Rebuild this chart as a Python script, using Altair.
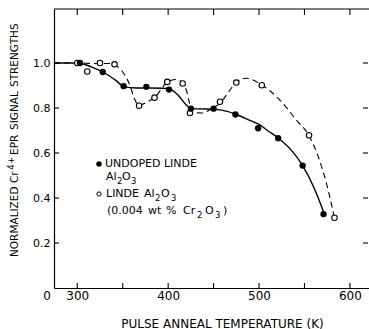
import altair as alt
import pandas as pd

# Measured points: undoped Linde Al2O3 (filled) and Linde Al2O3 with 0.004 wt % Cr2O3 (open)
undoped_temp = [303, 328, 351, 376, 401, 425, 450, 474, 499, 521, 548, 571]
undoped_signal = [1.0, 0.96, 0.897, 0.894, 0.882, 0.797, 0.797, 0.771, 0.71, 0.666, 0.544, 0.328]

doped_temp = [300, 311, 325, 341, 368, 385, 399, 416, 424, 457, 475, 503, 555, 583]
doped_signal = [1.0, 0.962, 1.0, 0.994, 0.81, 0.846, 0.916, 0.909, 0.778, 0.828, 0.913, 0.901, 0.679, 0.312]

# Hand-drawn guide curves through each series
solid_curve_temp = [274.4, 300, 316, 328, 342, 352, 365, 380, 395, 401, 411, 420, 426, 435, 450,
                    465, 475, 490, 500, 510, 521, 535, 548, 560, 572]
solid_curve_signal = [1.0, 1.0, 0.982, 0.96, 0.924, 0.894, 0.889, 0.889, 0.888, 0.885, 0.857, 0.813,
                      0.797, 0.796, 0.795, 0.785, 0.771, 0.745, 0.727, 0.698, 0.667, 0.615, 0.544, 0.45, 0.328]

dashed_curve_temp = [274.4, 300, 315, 325, 335, 342, 350, 358, 363, 368, 376, 386, 399, 409, 416, 420,
                     423, 426, 437, 449, 458, 468, 475, 486, 502, 523, 541, 555, 565, 573, 583]
dashed_curve_signal = [1.0, 1.0, 0.998, 0.997, 0.998, 0.99, 0.96, 0.9, 0.84, 0.812, 0.825, 0.85, 0.915,
                       0.927, 0.91, 0.88, 0.83, 0.78, 0.778, 0.80, 0.825, 0.88, 0.916, 0.932, 0.905, 0.835,
                       0.747, 0.677, 0.586, 0.483, 0.312]

x_ticks = [300, 350, 400, 450, 500, 550, 600]
x_labels = [300, 400, 500, 600]
y_ticks = [0.2, 0.4, 0.6, 0.8, 1.0]

FONT = "DejaVu Sans"
W, H = 315, 279

x_scale = alt.Scale(domain=[274.4, 621], nice=False, zero=False)
y_scale = alt.Scale(domain=[0, 1.24], nice=False, zero=False)

x_axis = alt.Axis(values=x_labels, ticks=False, grid=False, domainColor="black", domainWidth=1.2,
                  labelFont=FONT, labelFontSize=12, labelColor="black", labelPadding=2,
                  title="PULSE ANNEAL TEMPERATURE (K)", titleFont=FONT, titleFontSize=12,
                  titleFontWeight="normal", titleColor="black", titleX=168, titleY=35,
                  titleBaseline="middle", titleAnchor="middle")
y_axis = alt.Axis(values=y_ticks, format=".1f", ticks=False, grid=False, domainColor="black",
                  domainWidth=1.2, labelFont=FONT, labelFontSize=11, labelColor="black",
                  labelPadding=4, title=None)


def xenc():
    return alt.X("t:Q", scale=x_scale, axis=x_axis)


def yenc():
    return alt.Y("s:Q", scale=y_scale, axis=y_axis)


undoped = pd.DataFrame({"t": undoped_temp, "s": undoped_signal})
doped = pd.DataFrame({"t": doped_temp, "s": doped_signal})
solid = pd.DataFrame({"t": solid_curve_temp, "s": solid_curve_signal})
dashed = pd.DataFrame({"t": dashed_curve_temp, "s": dashed_curve_signal})
xt = pd.DataFrame({"t": x_ticks})
yt = pd.DataFrame({"s": y_ticks})
one = pd.DataFrame({"a": [0]})

solid_line = alt.Chart(solid).mark_line(color="black", strokeWidth=1.4, interpolate="monotone").encode(
    x=xenc(), y=yenc())
dashed_line = alt.Chart(dashed).mark_line(color="black", strokeWidth=1.1, strokeDash=[6, 4],
                                          interpolate="monotone").encode(x=xenc(), y=yenc())

filled_pts = alt.Chart(undoped).mark_point(filled=True, color="black", size=40, opacity=1).encode(
    x=xenc(), y=yenc())
open_pts = alt.Chart(doped).mark_point(filled=False, color="black", fill="white", size=30,
                                       strokeWidth=1.1, opacity=1).encode(x=xenc(), y=yenc())

# Frame: top border and inward tick marks on all four sides
top_border = alt.Chart(one).mark_rule(color="black", strokeWidth=1.2).encode(
    x=alt.value(0), x2=alt.value(W), y=alt.value(0))
bottom_ticks = alt.Chart(xt).mark_rule(color="black", strokeWidth=1.1).encode(
    x=xenc(), y=alt.value(H), y2=alt.value(H - 5))
top_ticks = alt.Chart(xt).mark_rule(color="black", strokeWidth=1.1).encode(
    x=xenc(), y=alt.value(0), y2=alt.value(6))
left_ticks = alt.Chart(yt).mark_rule(color="black", strokeWidth=1.1).encode(
    y=yenc(), x=alt.value(0), x2=alt.value(5))
right_ticks = alt.Chart(yt).mark_rule(color="black", strokeWidth=1.1).encode(
    y=yenc(), x=alt.value(W - 6), x2=alt.value(W - 1))


def label(txt, px, py, size=11, align="left", angle=0):
    return alt.Chart(one).mark_text(font=FONT, fontSize=size, color="black", align=align,
                                    baseline="middle", text=txt, angle=angle).encode(
        x=alt.value(px), y=alt.value(py))


origin_label = label("0", -7, H + 8, size=12, align="center")

# Vertical axis title, built word by word so the Cr4+ charge sits as a real superscript
y_title = [
    label("NORMALIZED", -39, 248, size=10.5, angle=270),
    label("Cr", -39, 174, size=10.5, angle=270),
    label("4+", -43, 161, size=9, angle=270),
    label("EPR", -39, 146, size=10.5, angle=270),
    label("SIGNAL", -39, 121, size=10.5, angle=270),
    label("STRENGTHS", -39, 78, size=10.5, angle=270),
]

# Legend drawn inside the plot, with chemical subscripts set lower and smaller
legend_filled = alt.Chart(one).mark_point(filled=True, color="black", size=30, opacity=1).encode(
    x=alt.value(45), y=alt.value(155))
legend_open = alt.Chart(one).mark_point(filled=False, color="black", size=18, strokeWidth=1,
                                        opacity=1).encode(x=alt.value(45), y=alt.value(185))
legend_text = [
    label("UNDOPED LINDE", 51, 155),
    label("Al", 52, 168),
    label("2", 63, 172, size=8.5),
    label("O", 68, 168),
    label("3", 77, 172, size=8.5),
    label("LINDE", 52, 185),
    label("Al", 90, 185),
    label("2", 101, 189, size=8.5),
    label("O", 107, 185),
    label("3", 117, 189, size=8.5),
    label("(0.004", 53, 202),
    label("wt", 94, 202),
    label("%", 112, 202),
    label("Cr", 129, 202),
    label("2", 143, 206, size=8.5),
    label("O", 151, 202),
    label("3", 161, 206, size=8.5),
    label(")", 169, 202),
]

chart = alt.layer(
    solid_line, dashed_line, open_pts, filled_pts,
    top_border, bottom_ticks, top_ticks, left_ticks, right_ticks,
    legend_filled, legend_open, *legend_text, *y_title, origin_label,
).properties(
    width=W, height=H,
    padding={"left": 54, "top": 9, "right": 0, "bottom": 41},
    autosize=alt.AutoSizeParams(type="none"),
    background="white",
).configure_view(stroke=None)

chart.save("out.html", embed_options={"renderer": "svg", "actions": False})
